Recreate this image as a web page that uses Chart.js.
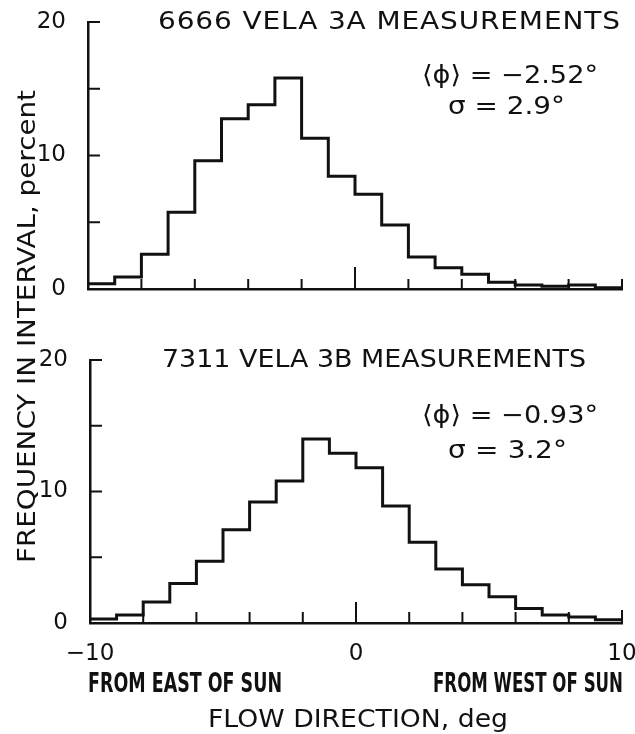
<!DOCTYPE html>
<html><head><meta charset="utf-8">
<script src="https://cdn.jsdelivr.net/npm/chart.js@4.4.1/dist/chart.umd.min.js"></script>
<style>
html,body{margin:0;padding:0;background:#fff;}
#wrap{position:relative;width:635px;height:734px;background:#fff;}
canvas{position:absolute;left:0;top:0;}
</style></head><body>
<div id="wrap"><canvas id="c1" width="635" height="734"></canvas><canvas id="c2" width="635" height="734"></canvas></div>
<script>
// ---- data ----
const binEdges = [-10,-9,-8,-7,-6,-5,-4,-3,-2,-1,0,1,2,3,4,5,6,7,8,9,10];
const vela3A = [0.4,0.9,2.6,5.75,9.6,12.75,13.8,15.8,11.3,8.45,7.1,4.8,2.4,1.6,1.1,0.5,0.3,0.2,0.3,0.1];
const vela3B = [0.3,0.6,1.6,3.0,4.7,7.1,9.2,10.8,14.0,12.9,11.8,8.9,6.15,4.1,2.9,2.0,1.1,0.6,0.45,0.25];
const yTickValues = [0,5,10,15,20];
const xTickValues = [-8,-6,-4,-2,0,2,4,6,8,10];
const xRange = [-10,10];
const yRange = [0,20];
const titleA = '6666 VELA 3A MEASUREMENTS';
const titleB = '7311 VELA 3B MEASUREMENTS';
const meanA = '\u27E8\u03D5\u27E9 = \u22122.52\u00B0';
const sigmaA = '\u03C3 = 2.9\u00B0';
const meanB = '\u27E8\u03D5\u27E9 = \u22120.93\u00B0';
const sigmaB = '\u03C3 = 3.2\u00B0';
const yTitle = 'FREQUENCY IN INTERVAL, percent';
const xTitle = 'FLOW DIRECTION, deg';
const eastLabel = 'FROM EAST OF SUN';
const westLabel = 'FROM WEST OF SUN';

const INK = '#111';
const FONT = "'DejaVu Sans', 'Liberation Sans', sans-serif";
const COND = "'DejaVu Sans Condensed', 'Liberation Sans Narrow', 'DejaVu Sans', sans-serif";

function histPoints(vals){
  const pts = vals.map((v,i)=>({x:binEdges[i], y:v}));
  pts.push({x:binEdges[binEdges.length-1], y:vals[vals.length-1]});
  return pts;
}

function fitText(ctx, text, x, y, width, font, maxStretch){
  ctx.save();
  ctx.font = font;
  ctx.textAlign = 'left';
  ctx.textBaseline = 'alphabetic';
  ctx.fillStyle = INK;
  const w = ctx.measureText(text).width;
  const n = [...text].length;
  let sx = width / w;
  const hasLS = ctx.letterSpacing !== undefined;
  if (sx > 1 && hasLS) sx = Math.min(sx, maxStretch || 1.12);
  ctx.translate(x, y);
  ctx.scale(sx, 1);
  if (hasLS && width / sx > w + 0.5){
    ctx.letterSpacing = ((width / sx - w) / Math.max(n - 1, 1)) + 'px';
  }
  ctx.fillText(text, 0, 0);
  ctx.restore();
}

const inwardTicks = {
  id: 'inwardTicks',
  afterDatasetsDraw(chart, args, opts){
    const {ctx, scales:{x, y}} = chart;
    ctx.save();
    ctx.strokeStyle = INK;
    ctx.lineWidth = 2;
    const base = y.getPixelForValue(0);
    yTickValues.forEach(v=>{
      const py = y.getPixelForValue(v);
      ctx.beginPath(); ctx.moveTo(x.left, py); ctx.lineTo(x.left + 12, py); ctx.stroke();
    });
    xTickValues.forEach(v=>{
      const px = x.getPixelForValue(v);
      const len = v === 0 ? opts.zeroLen : (v === 10 ? opts.endLen : opts.len);
      ctx.beginPath(); ctx.moveTo(px, base); ctx.lineTo(px, base - len); ctx.stroke();
    });
    ctx.restore();
  }
};

const freeText = {
  id: 'freeText',
  afterDraw(chart, args, opts){
    const ctx = chart.ctx;
    (opts.items || []).forEach(it=>{
      if (it.rotate){
        ctx.save();
        ctx.translate(it.x, it.y);
        ctx.rotate(-Math.PI/2);
        fitText(ctx, it.text, 0, 0, it.w, it.font, it.s);
        ctx.restore();
      } else {
        fitText(ctx, it.text, it.x, it.y, it.w, it.font, it.s);
      }
    });
  }
};

function makeChart(id, vals, cfg){
  return new Chart(document.getElementById(id), {
    type: 'line',
    data: { datasets: [{
      data: histPoints(vals),
      stepped: true,
      borderColor: INK,
      borderWidth: 3,
      pointRadius: 0,
      fill: false,
      clip: false,
      borderJoinStyle: 'miter'
    }]},
    options: {
      responsive: false,
      animation: false,
      devicePixelRatio: 1,
      events: [],
      layout: { padding: cfg.padding },
      plugins: {
        legend: {display:false}, tooltip: {enabled:false}, title: {display:false},
        inwardTicks: cfg.ticks,
        freeText: { items: cfg.texts }
      },
      scales: {
        x: {
          type: 'linear', min: xRange[0], max: xRange[1],
          grid: {display:false},
          border: {display:true, color: INK, width: 2.5},
          ticks: {
            display: cfg.showX, stepSize: 10, autoSkip: false, maxRotation: 0,
            padding: 9, color: INK, font: {family: FONT, size: 23},
            callback: v => v < 0 ? '\u2212' + Math.abs(v) : String(v)
          },
          afterFit: s => { s.height = cfg.xHeight; s.paddingLeft = 0; s.paddingRight = 0; }
        },
        y: {
          type: 'linear', min: yRange[0], max: yRange[1],
          grid: {display:false},
          border: {display:true, color: INK, width: 2.5},
          ticks: { stepSize: 10, padding: 14, color: INK, font: {family: FONT, size: 23} },
          afterFit: s => { s.width = cfg.yWidth; s.paddingTop = 0; s.paddingBottom = 0; }
        }
      }
    },
    plugins: [inwardTicks, freeText]
  });
}

makeChart('c1', vela3A, {
  padding: {left:0, right:13, top:22, bottom:445},
  xHeight: 0, yWidth: 88, showX: false,
  ticks: {len:10, zeroLen:22, endLen:10},
  texts: [
    {text:titleA, x:158, y:29, w:462, font:'25px ' + FONT},
    {text:meanA, x:422, y:83, w:176, font:'25px ' + FONT},
    {text:sigmaA, x:448, y:114, w:117, font:'25px ' + FONT}
  ]
});

makeChart('c2', vela3B, {
  padding: {left:0, right:13, top:360, bottom:0},
  xHeight: 111, yWidth: 90, showX: true,
  ticks: {len:11, zeroLen:21, endLen:13},
  texts: [
    {text:titleB, x:162, y:367, w:424, font:'25px ' + FONT},
    {text:meanB, x:422, y:423, w:176, font:'25px ' + FONT},
    {text:sigmaB, x:448, y:458, w:119, font:'25px ' + FONT},
    {text:eastLabel, x:88, y:692, w:194, font:'bold 26px ' + COND},
    {text:westLabel, x:433, y:692, w:190, font:'bold 26px ' + COND},
    {text:xTitle, x:208, y:727, w:300, font:'25px ' + FONT},
    {text:yTitle, x:35, y:563, w:473, font:'25px ' + FONT, rotate:true}
  ]
});
</script>
</body></html>
